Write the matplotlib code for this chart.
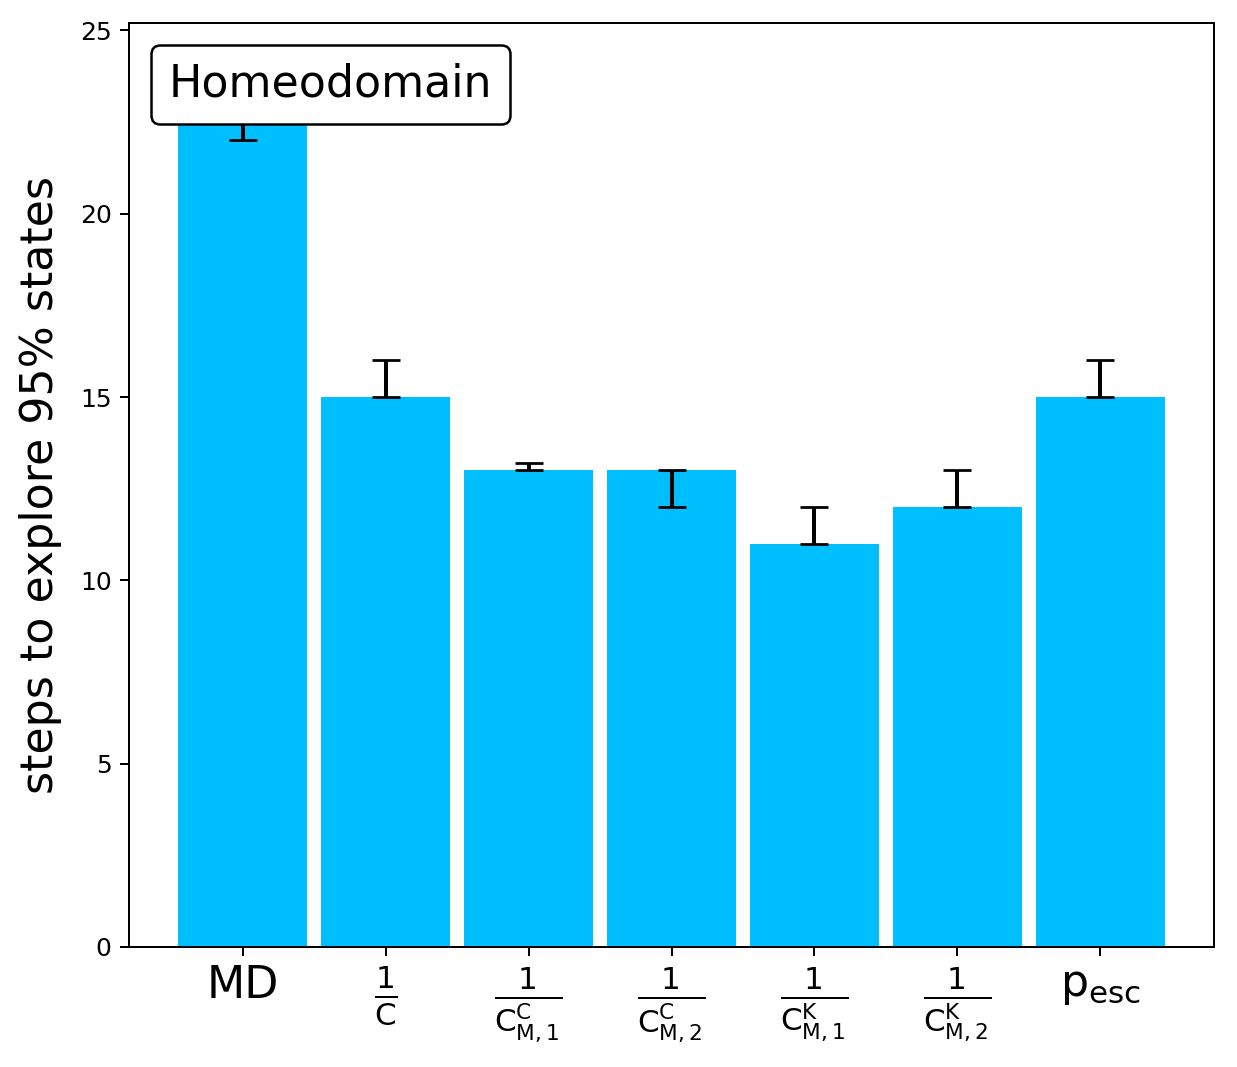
import matplotlib
matplotlib.use("Agg")
import matplotlib.pyplot as plt
import numpy as np
from matplotlib.offsetbox import AnchoredText

plt.rcParams["mathtext.default"] = "regular"

labels = ["MD", r"$\frac{1}{C}$", r"$\frac{1}{C^C_{M,1}}$", r"$\frac{1}{C^C_{M,2}}$",
          r"$\frac{1}{C^K_{M,1}}$", r"$\frac{1}{C^K_{M,2}}$", r"$p_{esc}$"]
steps = [24, 15, 13, 13, 11, 12, 15]
err_low = [22, 15, 13, 12, 11, 12, 15]
err_high = [24, 16, 13.2, 13, 12, 13, 16]

steps = np.array(steps, dtype=float)
yerr = [steps - np.array(err_low), np.array(err_high) - steps]
x = np.arange(len(labels))

fig = plt.figure(figsize=(1237 / 180, 1067 / 180), dpi=180)
ax = fig.add_axes([0.1043, 0.1125, 0.8771, 0.8659])
ax.bar(x, steps, width=0.9, color="deepskyblue")
ax.errorbar(x, steps, yerr=yerr, fmt="none", ecolor="black", elinewidth=1.6,
            capsize=5.5, capthick=1.1)
ax.set_xticks(x)
ax.set_xticklabels(labels, fontsize=17.7)
ax.set_ylabel("steps to explore 95% states", fontsize=17.7, labelpad=7)

at = AnchoredText("Homeodomain", loc="upper left", prop=dict(size=17.7))
at.patch.set_boxstyle("round,pad=0.,rounding_size=0.2")
ax.add_artist(at)

fig.savefig("out.png", dpi=180)
